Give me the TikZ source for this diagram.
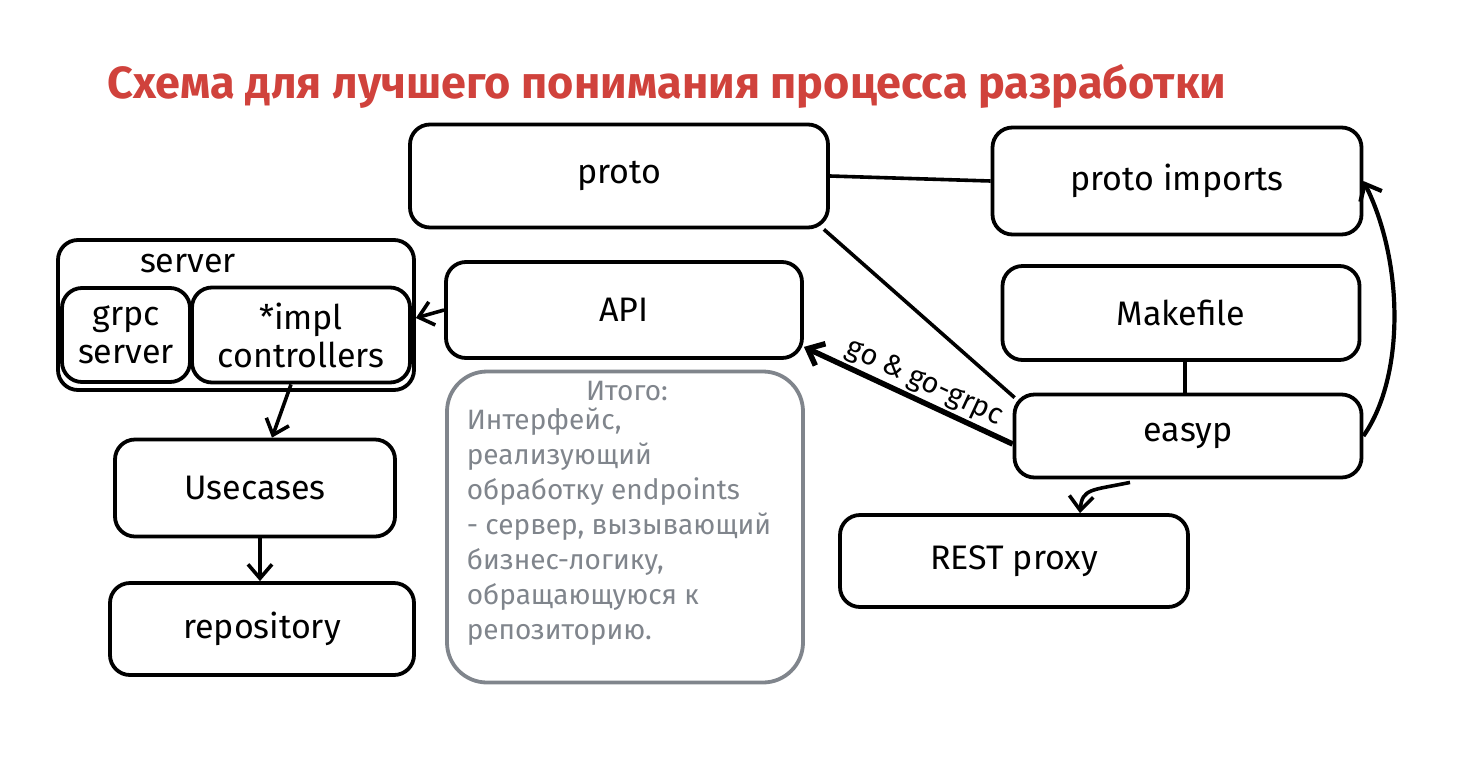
\documentclass[tikz,border=0pt]{standalone}
\usepackage{fontspec}
\usepackage{xcolor}
\setmainfont{Fira Sans}
\usetikzlibrary{arrows.meta}
\definecolor{titlered}{RGB}{208,66,60}
\definecolor{notegray}{RGB}{128,133,140}
\tikzset{
	main node/.style={draw,rounded corners=20pt,line width=3.8pt,align=center,inner sep=0pt,
		font=\fontsize{34}{38}\selectfont},
	note node/.style={main node,draw=notegray,text=notegray,rounded corners=40pt},
	note text/.style={text=notegray,align=left,inner sep=0pt,font=\fontsize{28}{35}\selectfont},
	title node/.style={text=titlered,inner sep=0pt,font=\fontsize{45}{52}\selectfont\bfseries}
}

\begin{document}
\begin{tikzpicture}[x=1pt,y=-1pt,line width=3.6pt,>={Straight Barb[length=14pt,width=24pt]}]
	\useasboundingbox (0,0) rectangle (1480,764);
	\node [title node,anchor=west] (title) at (106,86) {Схема для лучшего понимания процесса разработки};
	% top row
	\node [main node,minimum width=418pt,minimum height=103pt] (proto) at (619,176) {proto};
	\node [main node,minimum width=369pt,minimum height=107pt] (imports) at (1177,181) {proto imports};
	% server
	\node [main node,minimum width=356pt,minimum height=150pt] (server) at (236,315) {};
	\node [font=\fontsize{34}{38}\selectfont,inner sep=0pt] (serverlabel) at (188,264) {server};
	\node [main node,minimum width=128pt,minimum height=94pt] (grpc) at (126,335) {grpc\\server};
	\node [main node,minimum width=218pt,minimum height=95pt] (impl) at (301,335) {*impl\\controllers};
	\node [main node,minimum width=280pt,minimum height=97pt] (usecases) at (255,488) {Usecases};
	\node [main node,minimum width=304pt,minimum height=92pt] (repo) at (262,629) {repository};
	% middle
	\node [main node,minimum width=356pt,minimum height=96pt] (api) at (624,310) {API};
	\node [note node,minimum width=356pt,minimum height=311pt] (note) at (625,527) {};
	\node [note text] (notetitle) at (627,391) {Итого:};
	\node [note text,anchor=north west] (notetext) at (465,406) {Интерфейс,\\реализующий\\обработку endpoints\\- сервер, вызывающий\\бизнес-логику,\\обращающуюся к\\репозиторию.};
	% right
	\node [main node,minimum width=357pt,minimum height=94pt] (makefile) at (1181,313) {Makefile};
	\node [main node,minimum width=347pt,minimum height=83pt] (easyp) at (1188,436) {easyp};
	\node [main node,minimum width=348pt,minimum height=92pt] (rest) at (1014,561) {REST proxy};
	% connectors
	\draw (proto.east) -- (imports.west);
	\draw ([xshift=-6pt]proto.south east) -- ([xshift=2pt,yshift=-5pt]easyp.north west);
	\draw ([xshift=4pt]makefile.south) -- ([xshift=-3pt]easyp.north);
	\draw [->] (api.west) -- ([yshift=-3pt]server.east);
	\draw [->,line width=5.5pt] ([yshift=-8pt]easyp.west) -- ([yshift=13pt]api.south east)
		node [pos=0.46,sloped,above=2pt,inner sep=0pt,font=\fontsize{29}{32}\selectfont] (golabel) {go \& go-grpc};
	\draw [->,line width=4.2pt] (easyp.east) .. controls +(42,-60) and +(40,80) .. (imports.east);
	\draw [->] ([xshift=-58pt,yshift=-3pt]easyp.south) .. controls +(-38,8) and +(2,-25) .. ([xshift=66pt]rest.north);
	\draw [->] ([xshift=-10pt]impl.south) -- ([xshift=17pt]usecases.north);
	\draw [->] ([xshift=5pt]usecases.south) -- ([xshift=-2pt]repo.north);
\end{tikzpicture}
\end{document}
